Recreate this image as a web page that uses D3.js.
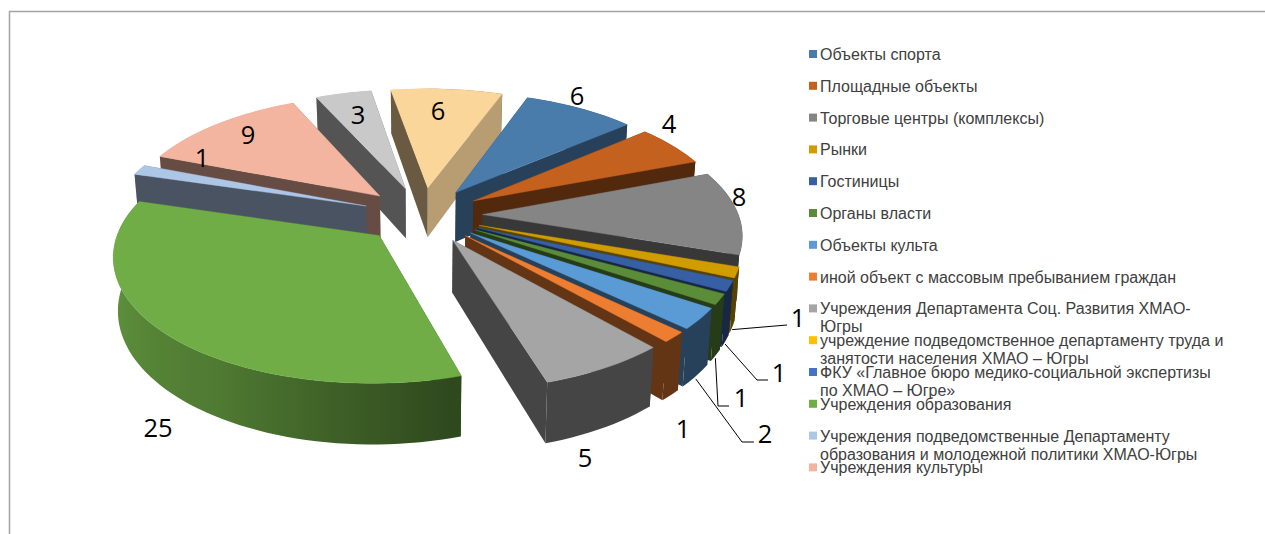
<!DOCTYPE html>
<html><head><meta charset="utf-8">
<script src="https://cdn.jsdelivr.net/npm/d3@7"></script>
<style>html,body{margin:0;padding:0;background:#fff;overflow:hidden}svg{display:block}</style>
</head><body><svg id="c" width="1265" height="534"></svg>
<script>
const categories = ["Объекты спорта","Площадные объекты","Торговые центры (комплексы)","Рынки","Гостиницы","Органы власти","Объекты культа","иной объект с массовым пребыванием граждан","Учреждения Департамента Соц. Развития ХМАО-Югры","учреждение подведомственное департаменту труда и занятости населения ХМАО – Югры","ФКУ «Главное бюро медико-социальной экспертизы по ХМАО – Югре»","Учреждения образования","Учреждения подведомственные Департаменту образования и молодежной политики ХМАО-Югры","Учреждения культуры","Прочие 1","Прочие 2"];
const values = [6,4,8,1,1,1,2,1,5,0,0,25,1,9,3,6];
const colors = ["#4a7cab","#c4611f","#858585","#d09c00","#375fa3","#5b8c38","#5b9bd5","#ed7d31","#a5a5a5","#ffc000","#4472c4","#70ad47","#aec6e6","#f3b5a0","#c9c9c9","#fbd69b"];
const legendCount = 14;
const legendLines = [["Объекты спорта"],["Площадные объекты"],["Торговые центры (комплексы)"],["Рынки"],["Гостиницы"],["Органы власти"],["Объекты культа"],["иной объект с массовым пребыванием граждан"],["Учреждения Департамента Соц. Развития ХМАО-","Югры"],["учреждение подведомственное департаменту труда и","занятости населения ХМАО – Югры"],["ФКУ «Главное бюро медико-социальной экспертизы","по ХМАО – Югре»"],["Учреждения образования"],["Учреждения подведомственные Департаменту","образования и молодежной политики ХМАО-Югры"],["Учреждения культуры"]];
// label placement: [series index, x, y, leader elbow x, elbow y, leader end x]
const labelLayout = [[0,577,95],[1,669,123],[2,739,196],[3,798,317,787,325,787],[4,779,372,757,380,768],[5,741,397,718,406,729],[6,765,433,742,442,754],[7,683,428],[8,585,457],[11,158,427],[12,202,157],[13,248,134],[14,358,114],[15,438,110]];

const svg = d3.select("#c");
const R=256, cx=422.5, cy=215, k=0.47, D=1800, H=51, E=60, shrink=0.015;
const project=(u,v,z)=>{const s=D/(D-v);return [cx+u*s*(1-shrink*z), cy+k*v*s+H*z*s];};
const rad=a=>a*Math.PI/180;
const pie=d3.pie().sort(null).startAngle(rad(20)).endAngle(rad(380)).value(d=>d);
const arcs=pie(values).map((a,i)=>({...a,i}));
const line=d3.line();
const shade=(c,f)=>{const r=d3.rgb(c);return d3.rgb(r.r*f,r.g*f,r.b*f).formatHex();};
const deg=a=>((a*180/Math.PI)%360+360)%360;
const faceLight=n=>{n=deg(n);if(n>=90&&n<155)return 0.42+0.35*(155-n)/50;return 0.42;};
const arcLightScale=d3.scaleLinear().domain([165,210,280]).range([0.42,0.7,0.92]).clamp(true);
const arcLight=n=>arcLightScale(deg(n));

const defs=svg.append("defs");
const g=svg.append("g");
arcs.filter(a=>a.value>0).sort((a,b)=>(-Math.cos((a.startAngle+a.endAngle)/2))-(-Math.cos((b.startAngle+b.endAngle)/2))).forEach(a=>{
  const mid=(a.startAngle+a.endAngle)/2, ou=E*Math.sin(mid), ov=-E*Math.cos(mid);
  const P=(t,z,r=R)=>project(ou+r*Math.sin(t),ov-r*Math.cos(t),z);
  const c=colors[a.i], faces=[];
  const a0=P(0,0,0), a1=P(0,1,0);
  [[a.startAngle,a.startAngle-Math.PI/2],[a.endAngle,a.endAngle+Math.PI/2]].forEach(([t,n])=>{
    faces.push({pts:[a0,P(t,0),P(t,1),a1],col:shade(c,faceLight(n)),v:-0.5*R*Math.cos(t)+ov});
  });
  const n=Math.max(2,Math.ceil((a.endAngle-a.startAngle)/rad(2)));
  const ts=d3.range(n+1).map(j=>a.startAngle+(a.endAngle-a.startAngle)*j/n);
  // outer wall as one path with a horizontal gradient following the lighting
  const front=ts.filter(t=>Math.cos(t)<=0);
  const stopsT=front.length>=2?front:ts;
  const xs=stopsT.map(t=>P(t,0)[0]);
  const x0=d3.min(xs),x1=d3.max(xs);
  const id="w"+a.i;
  const grad=defs.append("linearGradient").attr("id",id).attr("gradientUnits","userSpaceOnUse")
    .attr("x1",x0).attr("x2",x1).attr("y1",0).attr("y2",0);
  stopsT.map((t,j)=>[(xs[j]-x0)/Math.max(1,x1-x0),shade(c,arcLight(t))]).sort((p,q)=>p[0]-q[0])
    .forEach(([o,col])=>grad.append("stop").attr("offset",o).attr("stop-color",col));
  faces.push({pts:[...ts.map(t=>P(t,0)),...ts.slice().reverse().map(t=>P(t,1))],col:`url(#${id})`,v:-R*Math.cos(mid)+ov});
  faces.sort((x,y)=>x.v-y.v).forEach(f=>g.append("path").attr("d",line(f.pts)+"Z").attr("fill",f.col));
  const top=[a0,...ts.map(t=>P(t,0))];
  g.append("path").attr("d",line(top)+"Z").attr("fill",c).attr("stroke",c).attr("stroke-width",0.4);
});

// frame
svg.append("path").attr("d","M9.5,534V11.5H1265").attr("fill","none").attr("stroke","#a3a3a3").attr("stroke-width",1.5);

// leaders + labels
labelLayout.forEach(([i,x,y,ex,ey,tx])=>{
  if(ex!==undefined){
    const a=arcs[i],mid=(a.startAngle+a.endAngle)/2;
    const s=project(E*Math.sin(mid)+R*Math.sin(mid),-E*Math.cos(mid)-R*Math.cos(mid),1.05);
    svg.append("path").attr("d",line([s,[ex,ey],[tx,ey]])).attr("fill","none").attr("stroke","#000").attr("stroke-width",1);
  }
  svg.append("text").attr("x",x).attr("y",y).attr("text-anchor","middle").attr("dominant-baseline","central")
    .attr("font-family","'Open Sans','Noto Sans',sans-serif").attr("font-size",25.5).attr("fill","#000").text(values[i]);
});

// legend
const ly=d3.scaleLinear().domain([0,legendCount-1]).range([54,467.4]);
const lg=svg.append("g").attr("font-family","'Liberation Sans',Arial,sans-serif").attr("font-size",16).attr("fill","#404040");
legendLines.forEach((ls,i)=>{
  const y=ly(i);
  lg.append("rect").attr("x",809).attr("y",y-4).attr("width",8).attr("height",8).attr("fill",colors[i]);
  ls.forEach((t,j)=>lg.append("text").attr("x",820).attr("y",y+6+j*18).text(t));
});
</script></body></html>
